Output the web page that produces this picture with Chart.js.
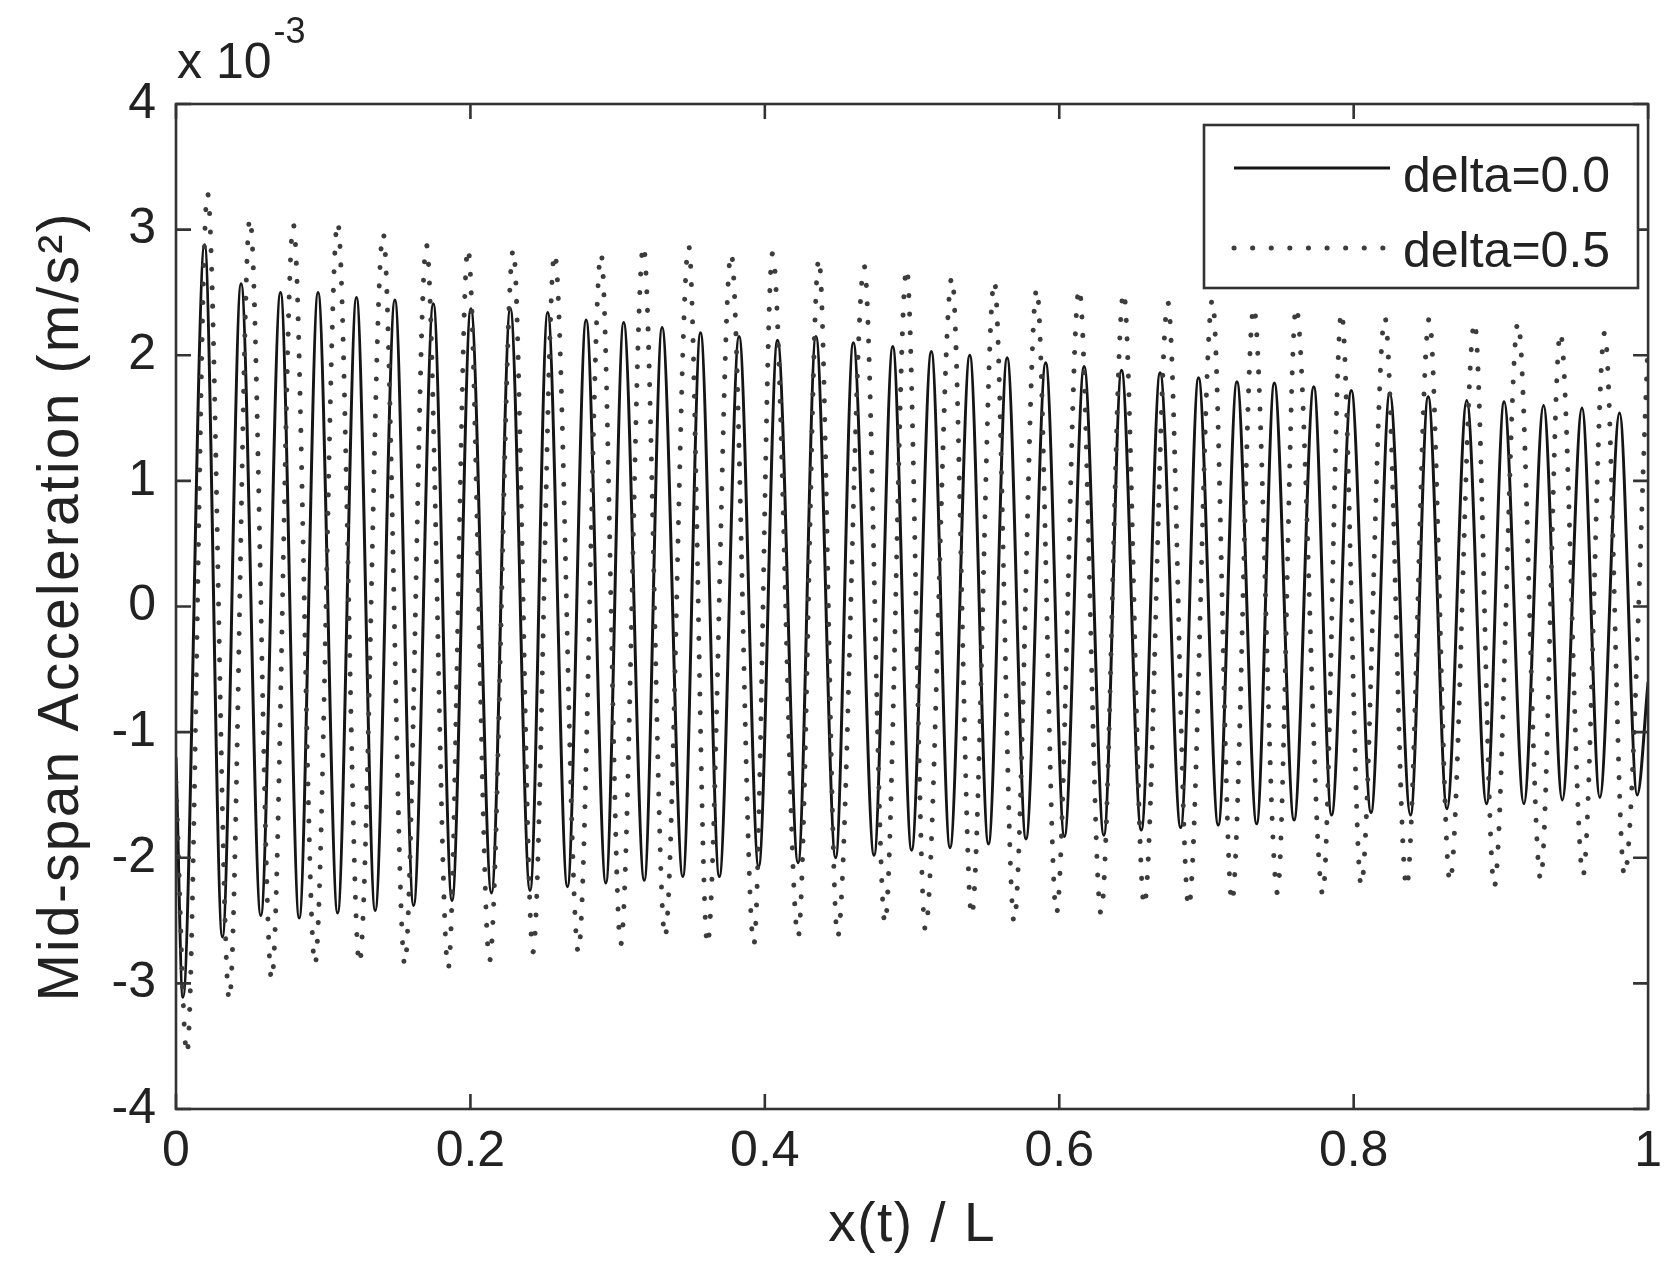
<!DOCTYPE html>
<html>
<head>
<meta charset="utf-8">
<script src="https://cdn.jsdelivr.net/npm/chart.js@4.4.1/dist/chart.umd.min.js"></script>
<style>
html,body{margin:0;padding:0;background:#fff;}
#wrap{width:1675px;height:1265px;position:relative;}
</style>
</head>
<body>
<div id="wrap"><canvas id="c" width="1675" height="1265"></canvas></div>
<script>
// ---- data (acceleration values in units of 1e-3 m/s^2, x = x(t)/L) ----
const seriesNames = ['delta=0.0', 'delta=0.5'];
const xTitle = 'x(t) / L';
const yTitle = 'Mid-span Acceleration (m/s\u00B2)';
const xTickValues = [0, 0.2, 0.4, 0.6, 0.8, 1];
const xTickLabels = ['0', '0.2', '0.4', '0.6', '0.8', '1'];
const yTickValues = [-4, -3, -2, -1, 0, 1, 2, 3, 4];
const yTickLabels = ['-4', '-3', '-2', '-1', '0', '1', '2', '3', '4'];

// delta = 0.0 (solid): start, alternating troughs / peaks, end
const solidStart = [0, -1.2];
const solidEnd = [1, -0.6];
const solidTroughX = [0.0047,0.0315,0.0576,0.0837,0.1098,0.1353,0.1614,0.1875,0.2143,0.2405,0.2659,0.2920,0.3181,0.3443,0.3691,0.3958,0.4226,0.4481,0.4742,0.4997,0.5258,0.5519,0.5774,0.6035,0.6303,0.6557,0.6825,0.7080,0.7341,0.7595,0.7850,0.8118,0.8386,0.8634,0.8902,0.9156,0.9417,0.9672,0.9926];
const solidTroughY = [-3.11,-2.63,-2.46,-2.48,-2.44,-2.42,-2.38,-2.34,-2.28,-2.26,-2.23,-2.20,-2.18,-2.15,-2.15,-2.07,-2.04,-2.00,-1.98,-1.94,-1.92,-1.89,-1.85,-1.83,-1.82,-1.78,-1.76,-1.74,-1.73,-1.70,-1.66,-1.64,-1.66,-1.61,-1.57,-1.57,-1.54,-1.52,-1.50];
const solidPeakX = [0.0194,0.0442,0.0710,0.0965,0.1226,0.1487,0.1748,0.2003,0.2271,0.2525,0.2786,0.3041,0.3302,0.3563,0.3825,0.4086,0.4347,0.4601,0.4869,0.5131,0.5392,0.5646,0.5908,0.6169,0.6423,0.6685,0.6946,0.7207,0.7461,0.7729,0.7984,0.8245,0.8506,0.8768,0.9022,0.9290,0.9551,0.9806];
const solidPeakY = [2.88,2.57,2.50,2.50,2.46,2.44,2.41,2.37,2.37,2.34,2.28,2.26,2.22,2.18,2.15,2.12,2.15,2.10,2.07,2.03,2.00,1.98,1.94,1.91,1.88,1.86,1.82,1.79,1.78,1.75,1.72,1.70,1.67,1.64,1.63,1.60,1.58,1.54];

// delta = 0.5 (dotted)
const dottedStart = [0, -1.4];
const dottedEnd = [1, 2.1];
const dottedTroughX = [0.0074,0.0362,0.0650,0.0944,0.1246,0.1554,0.1849,0.2130,0.2425,0.2733,0.3021,0.3322,0.3610,0.3925,0.4226,0.4494,0.4816,0.5090,0.5405,0.5693,0.5981,0.6283,0.6577,0.6879,0.7173,0.7482,0.7790,0.8051,0.8359,0.8654,0.8955,0.9270,0.9558,0.9839];
const dottedTroughY = [-3.56,-3.13,-2.97,-2.85,-2.84,-2.85,-2.88,-2.82,-2.75,-2.75,-2.69,-2.63,-2.69,-2.69,-2.63,-2.63,-2.52,-2.57,-2.46,-2.51,-2.44,-2.44,-2.38,-2.39,-2.35,-2.28,-2.29,-2.22,-2.23,-2.19,-2.23,-2.17,-2.14,-2.14];
const dottedPeakX = [0.0214,0.0502,0.0797,0.1098,0.1407,0.1701,0.1983,0.2291,0.2572,0.2887,0.3175,0.3483,0.3771,0.4052,0.4367,0.4675,0.4963,0.5271,0.5559,0.5847,0.6135,0.6437,0.6738,0.7040,0.7321,0.7609,0.7917,0.8212,0.8513,0.8821,0.9116,0.9404,0.9705];
const dottedPeakY = [3.29,3.09,3.04,3.06,2.97,2.88,2.85,2.84,2.81,2.81,2.87,2.87,2.81,2.81,2.77,2.71,2.69,2.62,2.59,2.53,2.53,2.50,2.42,2.44,2.38,2.38,2.34,2.30,2.29,2.26,2.26,2.18,2.18];

// build point lists: start, trough, peak, trough, peak, ..., end
function buildPoints(start, tx, ty, px, py, end) {
  const pts = [{x: start[0], y: start[1]}];
  for (let i = 0; i < tx.length; i++) {
    pts.push({x: tx[i], y: ty[i]});
    if (i < px.length) pts.push({x: px[i], y: py[i]});
  }
  pts.push({x: end[0], y: end[1]});
  return pts;
}
const solidPts = buildPoints(solidStart, solidTroughX, solidTroughY, solidPeakX, solidPeakY, solidEnd);
const dottedPts = buildPoints(dottedStart, dottedTroughX, dottedTroughY, dottedPeakX, dottedPeakY, dottedEnd);

const FONT = "'Liberation Sans', Arial, Helvetica, sans-serif";
const TEXT = '#222';
const AXIS = '#333';
const SOLID_STYLE = {color: '#151515', width: 3, dash: []};
const DOT_STYLE = {color: '#3c3c3c', width: 5, dash: [0.1, 18.5]};

// wrap a scale's title drawing to add letter spacing
function spacedTitle(scale, spacing) {
  if (scale._spacedTitle) return;
  const orig = scale.drawTitle.bind(scale);
  scale.drawTitle = function () {
    const c = this.ctx;
    const prev = c.letterSpacing;
    c.letterSpacing = spacing;
    orig();
    c.letterSpacing = prev || '0px';
  };
  scale._spacedTitle = true;
}

const framePlugin = {
  id: 'frame',
  afterDraw(chart) {
    const {ctx, chartArea: a, scales} = chart;
    ctx.save();
    // box
    ctx.strokeStyle = AXIS;
    ctx.lineWidth = 2.6;
    ctx.setLineDash([]);
    ctx.strokeRect(a.left, a.top, a.right - a.left, a.bottom - a.top);
    // inward ticks on all four sides
    const TL = 15;
    ctx.beginPath();
    yTickValues.forEach(v => {
      const y = scales.y.getPixelForValue(v);
      ctx.moveTo(a.left, y); ctx.lineTo(a.left + TL, y);
      ctx.moveTo(a.right, y); ctx.lineTo(a.right - TL, y);
    });
    xTickValues.forEach(v => {
      const x = scales.x.getPixelForValue(v);
      ctx.moveTo(x, a.bottom); ctx.lineTo(x, a.bottom - TL);
      ctx.moveTo(x, a.top); ctx.lineTo(x, a.top + TL);
    });
    ctx.stroke();

    // exponent label
    ctx.fillStyle = TEXT;
    ctx.textAlign = 'left';
    ctx.textBaseline = 'alphabetic';
    ctx.font = '50px ' + FONT;
    ctx.fillText('x 10', 177, 78);
    const w = ctx.measureText('x 10').width;
    ctx.font = '36px ' + FONT;
    ctx.fillText('-3', 177 + w + 2, 43);

    // legend
    const L = {x1: 1204, y1: 125, x2: 1638, y2: 288};
    ctx.fillStyle = '#fff';
    ctx.fillRect(L.x1, L.y1, L.x2 - L.x1, L.y2 - L.y1);
    ctx.strokeStyle = AXIS;
    ctx.lineWidth = 2.6;
    ctx.strokeRect(L.x1, L.y1, L.x2 - L.x1, L.y2 - L.y1);
    const rows = [
      {style: SOLID_STYLE, y: 168, base: 192, text: seriesNames[0]},
      {style: DOT_STYLE, y: 248, base: 267, text: seriesNames[1]}
    ];
    rows.forEach(r => {
      ctx.strokeStyle = r.style.color;
      ctx.lineWidth = r.style.width;
      ctx.setLineDash(r.style.dash);
      ctx.lineCap = r.style.dash.length ? 'round' : 'butt';
      ctx.beginPath();
      ctx.moveTo(1234, r.y); ctx.lineTo(1390, r.y);
      ctx.stroke();
      ctx.setLineDash([]);
      ctx.fillStyle = TEXT;
      ctx.font = '50px ' + FONT;
      ctx.fillText(r.text, 1403, r.base);
    });
    ctx.restore();
  }
};

new Chart(document.getElementById('c').getContext('2d'), {
  type: 'line',
  data: {
    datasets: [
      {
        label: seriesNames[0], data: solidPts,
        borderColor: SOLID_STYLE.color, borderWidth: SOLID_STYLE.width,
        pointRadius: 0, fill: false, cubicInterpolationMode: 'monotone', order: 1
      },
      {
        label: seriesNames[1], data: dottedPts,
        borderColor: DOT_STYLE.color, borderWidth: DOT_STYLE.width,
        borderDash: DOT_STYLE.dash, borderCapStyle: 'round',
        pointRadius: 0, fill: false, cubicInterpolationMode: 'monotone', order: 0
      }
    ]
  },
  options: {
    responsive: false,
    animation: false,
    devicePixelRatio: 1,
    events: [],
    layout: {padding: {left: 0, right: 6, top: 104, bottom: 0}},
    plugins: {legend: {display: false}, tooltip: {enabled: false}},
    scales: {
      x: {
        type: 'linear', min: 0, max: 1,
        afterBuildTicks: s => { s.ticks = xTickValues.map(v => ({value: v})); },
        afterFit: s => { s.height = 156; spacedTitle(s, '1.5px'); },
        ticks: {
          callback: (v, i) => xTickLabels[i],
          font: {family: FONT, size: 50}, color: TEXT,
          padding: 13, maxRotation: 0, autoSkip: false
        },
        grid: {display: false, drawTicks: false},
        border: {display: false},
        title: {display: true, text: xTitle, color: TEXT,
                font: {family: FONT, size: 55}, padding: {top: 0, bottom: 6}}
      },
      y: {
        type: 'linear', min: -4, max: 4,
        afterBuildTicks: s => { s.ticks = yTickValues.map(v => ({value: v})); },
        afterFit: s => { s.width = 176; spacedTitle(s, '2.2px'); },
        ticks: {
          callback: (v, i) => yTickLabels[i],
          font: {family: FONT, size: 50}, color: TEXT,
          padding: 20, autoSkip: false
        },
        grid: {display: false, drawTicks: false},
        border: {display: false},
        title: {display: true, text: yTitle, color: TEXT,
                font: {family: FONT, size: 57}, padding: {top: 28, bottom: 0}}
      }
    }
  },
  plugins: [framePlugin]
});
</script>
</body>
</html>
